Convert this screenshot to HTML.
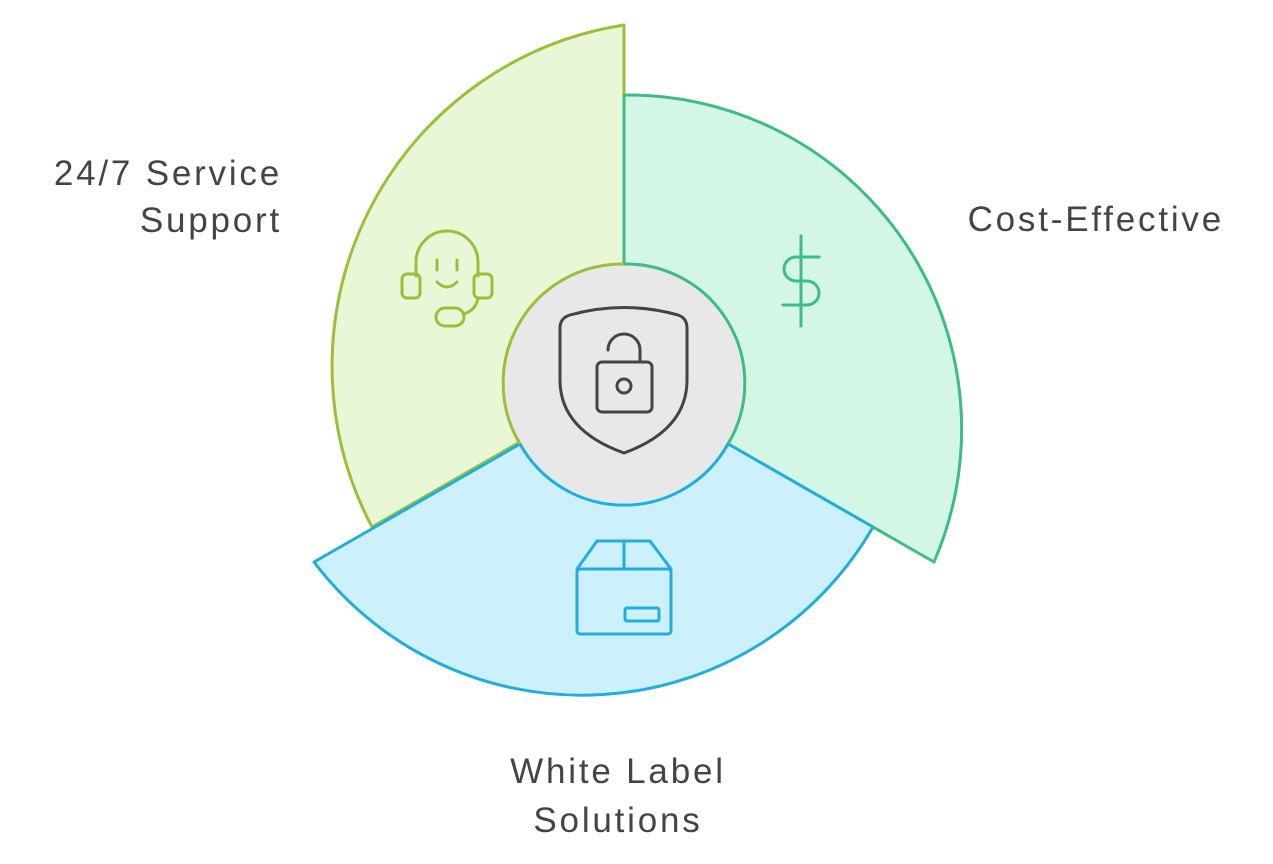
<!DOCTYPE html>
<html><head><style>
body{margin:0;background:#fff;}
svg{display:block}
text{font-family:"Liberation Sans",sans-serif;font-size:35px;fill:#444;letter-spacing:2.8px;}
</style></head><body>
<svg width="1273" height="864" viewBox="0 0 1273 864">
<path d="M624,264 L624,25 A345,345 0 0 0 372,527 L518,443 Z" fill="#e9f7d6" stroke="#9bbf3a" stroke-width="3" stroke-linejoin="round"/>
<path d="M624,264 L624,95 A334,334 0 0 1 934,562 L730,445 Z" fill="#d4f6e6" stroke="#3dbd82" stroke-width="3" stroke-linejoin="round"/>
<path d="M520,444 L314,562 A336,336 0 0 0 873,527 L730,445 Z" fill="#cdf1fc" stroke="#22aedc" stroke-width="3" stroke-linejoin="round"/>
<circle cx="624" cy="383" r="119" fill="#e8e8e8"/>
<path d="M520,444 A119,119 0 0 1 624,264" fill="none" stroke="#9bbf3a" stroke-width="3"/>
<path d="M624,264 A119,119 0 0 1 728,444" fill="none" stroke="#3dbd82" stroke-width="3"/>
<path d="M728,444 A119,119 0 0 1 520,444" fill="none" stroke="#22aedc" stroke-width="3"/>
<g fill="none" stroke="#9bbf3a" stroke-width="3" stroke-linecap="round" stroke-linejoin="round">
<path d="M416,276 V262 A31,31 0 0 1 478,262 V276"/>
<rect x="402" y="274" width="18" height="24" rx="5"/>
<rect x="474" y="274" width="18" height="24" rx="5"/>
<line x1="437" y1="260" x2="437" y2="270"/><line x1="457" y1="260" x2="457" y2="270"/>
<path d="M437,282 Q447,292 457,282"/>
<rect x="436" y="308" width="28" height="18" rx="9"/>
<path d="M464,314 Q476,310 478,298"/>
</g>
<g fill="none" stroke="#3dbd82" stroke-width="3" stroke-linecap="round">
<line x1="801" y1="236" x2="801" y2="326"/>
<path d="M819,257 H796 A12,12 0 0 0 796,281 H807 A12,12 0 0 1 807,305 H783"/>
</g>
<g fill="none" stroke="#444" stroke-width="3" stroke-linecap="round" stroke-linejoin="round">
<path d="M560,328 Q560,318 570,315 Q624,300 678,315 Q687,318 687,328 V380 Q687,430 624,453 Q560,430 560,380 Z"/>
<rect x="597" y="362" width="55" height="50" rx="5"/>
<circle cx="624" cy="386" r="7"/>
<path d="M608,350 A16,16 0 0 1 640,350 V362"/>
</g>
<g fill="none" stroke="#22aedc" stroke-width="3" stroke-linejoin="round">
<path d="M577,569 L597,541 H650 L671,569 Z"/>
<rect x="577" y="569" width="94" height="65" rx="3"/>
<line x1="624" y1="541" x2="624" y2="569"/>
<rect x="625" y="608" width="34" height="13" rx="2"/>
</g>
<text x="282" y="185" text-anchor="end">24/7 Service</text>
<text x="282" y="232" text-anchor="end">Support</text>
<text x="1224" y="231" text-anchor="end">Cost-Effective</text>
<text x="618" y="783" text-anchor="middle">White Label</text>
<text x="618" y="832" text-anchor="middle">Solutions</text>
</svg>
</body></html>
